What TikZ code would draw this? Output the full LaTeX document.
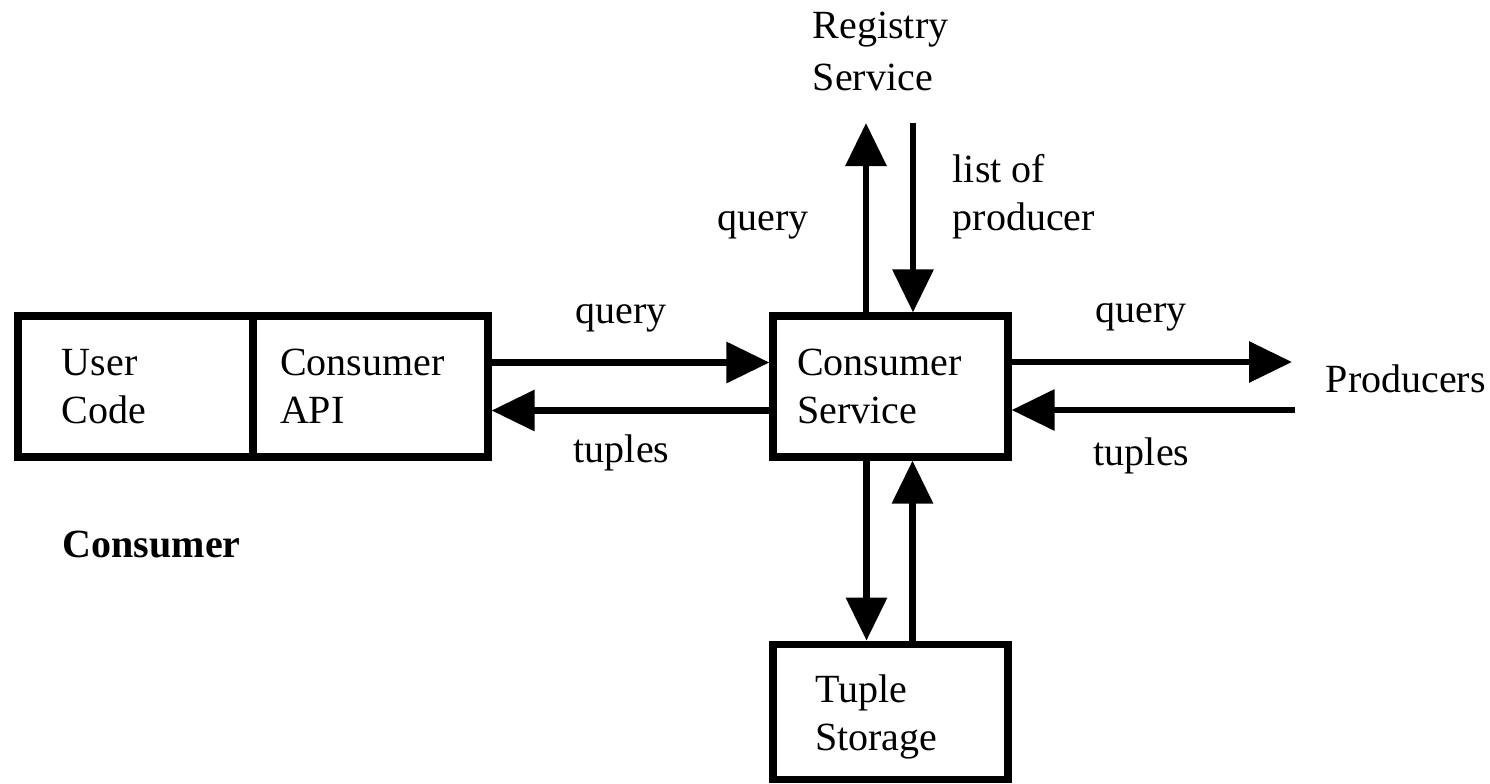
\documentclass[tikz,border=0pt]{standalone}
\usepackage{fontspec}
\setmainfont{Liberation Serif}
\usetikzlibrary{arrows.meta, positioning}

\begin{document}
\begin{tikzpicture}[
        x=0.25pt, y=-0.25pt,
        font=\fontsize{10}{12}\selectfont,
        box/.style={rectangle, draw, line width=1.8pt, inner xsep=0pt,
                    minimum width=58.75pt, minimum height=35.25pt, align=left},
        lbl/.style={inner sep=0pt, align=left, anchor=base west},
        arrow/.style={-{Triangle[length=10.75pt, width=10pt]}, line width=1.6pt},
    ]
        \useasboundingbox (0,0) rectangle (1490,783);

        % consumer side
        \node[box, text width=36.75pt] (user) at (135.5,386.5) {User\\Code};
        \node[box, text width=45.25pt, right=-1.8pt of user] (api) {Consumer\\API};
        \node[lbl, font=\fontsize{10}{12}\selectfont\bfseries] (cons) at (62,557) {Consumer};

        \node[box, text width=46.75pt, right=69.45pt of api] (service) {Consumer\\Service};
        \node[box, text width=37.75pt, minimum height=33.75pt, text depth=11.5pt,
              below=45pt of service] (tuple) {Tuple\\Storage};

        \node[lbl] (reg) at (812,90) {Registry\\[1pt]Service};
        \node[lbl] (prod) at (1325,392) {Producers};

        \coordinate (rq) at (866,123);
        \coordinate (rl) at (913,123);
        \coordinate (pq) at (1292,362);
        \coordinate (pt) at (1295,410);

        \draw[arrow] ([yshift=6pt]api.east) -- ([yshift=6pt]service.west);
        \draw[arrow] ([yshift=-6pt]service.west) -- ([yshift=-6pt]api.east);
        \draw[arrow] (service.east |- pq) -- (pq);
        \draw[arrow] (pt) -- (service.east |- pt);
        \draw[arrow] (service.north -| rq) -- (rq);
        \draw[arrow] (rl) -- (service.north -| rl);
        \draw[arrow] ([xshift=-6pt]service.south) -- ([xshift=-6pt]tuple.north);
        \draw[arrow] ([xshift=5.5pt]tuple.north) -- ([xshift=5.5pt]service.south);

        % arrow labels
        \node[lbl] (q1) at (575,323) {query};
        \node[lbl] (t1) at (573,462) {tuples};
        \node[lbl] (q2) at (1095,322) {query};
        \node[lbl] (t2) at (1093,465) {tuples};
        \node[lbl] (q3) at (717,230) {query};
        \node[lbl] (lp) at (952,230) {list of\\producer};

    \end{tikzpicture}
\end{document}
